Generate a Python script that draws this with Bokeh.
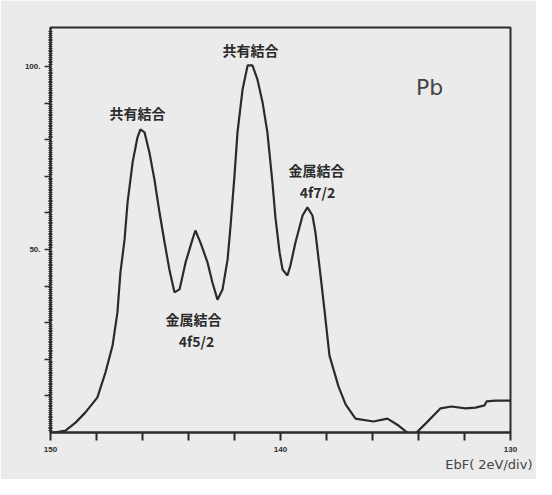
from bokeh.plotting import figure
from bokeh.models import Range1d, FixedTicker, Label, Title
from bokeh.embed import file_html
from bokeh.resources import INLINE

# Binding energy (eV) and intensity (arbitrary, % of max)
energy = [150.0, 149.83, 149.35, 148.91, 148.48, 147.96, 147.61, 147.30, 147.09, 146.96,
          146.78, 146.65, 146.43, 146.22, 146.09, 145.91, 145.70, 145.48, 145.26, 145.04,
          144.83, 144.61, 144.39, 144.13, 143.83, 143.70, 143.48, 143.17, 142.96, 142.74,
          142.52, 142.30, 142.17, 142.00, 141.87, 141.65, 141.43, 141.22, 141.00, 140.78,
          140.57, 140.35, 140.22, 140.04, 139.91, 139.70, 139.57, 139.35, 139.04, 138.83,
          138.61, 138.48, 138.26, 138.09, 137.87, 137.48, 137.17, 136.74, 135.96, 135.35,
          134.87, 134.43, 134.13, 133.65, 133.04, 132.57, 131.96, 131.52, 131.13, 131.04,
          130.65, 130.00]
intensity = [0.0, 0.0, 0.5, 2.7, 5.5, 9.6, 16.4, 23.8, 32.8, 43.7,
             52.7, 62.8, 73.8, 80.6, 82.8, 82.0, 76.5, 69.1, 60.1, 51.9,
             44.5, 38.3, 39.1, 46.4, 52.7, 55.2, 51.9, 46.4, 41.0, 36.3,
             39.1, 47.3, 56.6, 70.2, 82.0, 93.7, 100.3, 100.3, 96.4, 90.2,
             82.0, 68.3, 58.7, 49.2, 44.5, 42.9, 45.6, 51.9, 59.3, 61.5,
             59.3, 54.6, 42.9, 33.6, 21.0, 12.6, 7.7, 3.8, 3.0, 3.8,
             1.9, -0.3, -0.3, 2.7, 6.6, 7.1, 6.6, 6.8, 7.4, 8.5,
             8.7, 8.7]

x_ticks = [150, 148, 146, 144, 142, 140, 138, 136, 134, 132, 130]
x_tick_labels = {150: "150", 140: "140", 130: "130"}
y_ticks = [10, 20, 30, 40, 50, 60, 70, 80, 90, 100]
y_tick_labels = {50: "50.", 100: "100."}
x_axis_title = "EbF( 2eV/div)"

annotations = [
    ("共有結合", 146.22, 87.4),
    ("共有結合", 141.30, 104.4),
    ("金属結合", 138.43, 71.6),
    ("4f7/2", 138.39, 65.8),
    ("金属結合", 143.78, 31.1),
    ("4f5/2", 143.65, 25.1),
]

BG = "#ebebeb"
INK = "#2b2b2b"

p = figure(width=536, height=479, output_backend="svg", toolbar_location=None,
           x_range=Range1d(150, 130), y_range=Range1d(0, 110.66),
           min_border_left=50, min_border_right=26, min_border_top=27, min_border_bottom=47)
p.background_fill_color = BG
p.border_fill_color = BG
p.outline_line_color = INK
p.outline_line_width = 2
p.xgrid.visible = False
p.ygrid.visible = False

p.line(energy, intensity, line_color=INK, line_width=2.2)

p.xaxis.ticker = FixedTicker(ticks=x_ticks, minor_ticks=[])
p.xaxis.major_label_overrides = {t: x_tick_labels.get(t, "") for t in x_ticks}
p.xaxis.major_tick_out = 8
p.xaxis.major_tick_in = 0
p.xaxis.axis_line_width = 2
p.xaxis.axis_line_color = INK
p.xaxis.major_tick_line_color = INK
p.xaxis.major_tick_line_width = 2
p.xaxis.major_label_text_font_size = "8px"
p.xaxis.major_label_text_font_style = "bold"
p.xaxis.major_label_text_color = INK
p.xaxis.major_label_standoff = 6

minor_y = [v / 2 for v in range(1, 221) if v % 20 != 0]
p.yaxis.ticker = FixedTicker(ticks=y_ticks, minor_ticks=minor_y)
p.yaxis.major_label_overrides = {t: y_tick_labels.get(t, "") for t in y_ticks}
p.yaxis.major_tick_out = 6
p.yaxis.major_tick_in = 0
p.yaxis.minor_tick_out = 2
p.yaxis.minor_tick_in = 2
p.yaxis.axis_line_width = 2
p.yaxis.axis_line_color = INK
p.yaxis.major_tick_line_color = INK
p.yaxis.minor_tick_line_color = INK
p.yaxis.major_tick_line_width = 1.5
p.yaxis.major_label_text_font_size = "8px"
p.yaxis.major_label_text_font_style = "bold"
p.yaxis.major_label_text_color = INK
p.yaxis.major_label_standoff = 4

p.add_layout(Title(text=x_axis_title, align="right", offset=-22, standoff=0,
                   text_font="DejaVu Sans", text_font_size="13px",
                   text_font_style="normal", text_color="#444444"), "below")

for txt, ex, ey in annotations:
    p.add_layout(Label(x=ex, y=ey, text=txt, text_align="center", text_baseline="middle",
                       text_font="Noto Sans CJK JP", text_font_size="14px",
                       text_color=INK, text_font_style="bold"))

p.add_layout(Label(x=133.52, y=94.3, text="Pb", text_align="center", text_baseline="middle",
                   text_font="DejaVu Sans", text_font_size="22px", text_color="#444444"))

open("out.html", "w").write(file_html(p, INLINE))
